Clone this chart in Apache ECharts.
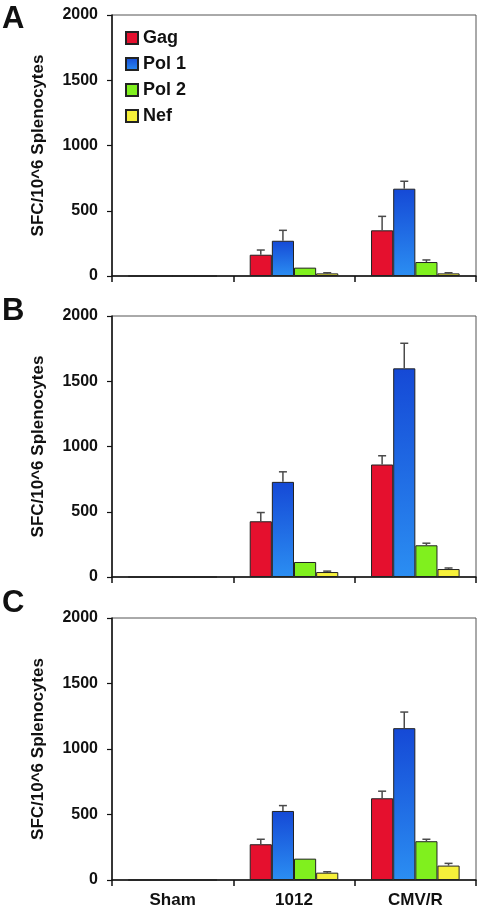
<!DOCTYPE html>
<html>
<head>
<meta charset="utf-8">
<script src="https://cdn.jsdelivr.net/npm/echarts@6/dist/echarts.min.js"></script>
<style>
html,body{margin:0;padding:0;background:#fff;}
#chart{width:480px;height:918px;}
</style>
</head>
<body>
<div id="chart"></div>
<script>
// ---- data ----
var categories = ['Sham', '1012', 'CMV/R'];
var seriesNames = ['Gag', 'Pol 1', 'Pol 2', 'Nef'];
var yTicks = [0, 500, 1000, 1500, 2000];
var panelLabels = ['A', 'B', 'C'];

// Panel A values (Sham, 1012, CMV/R)
var A_gag  = [0, 163, 350];
var A_pol1 = [0, 270, 669];
var A_pol2 = [0, 64, 107];
var A_nef  = [0, 20, 20];
var A_gag_err  = [0, 36, 107];
var A_pol1_err = [0, 80, 57];
var A_pol2_err = [0, 0, 16];
var A_nef_err  = [0, 5, 5];

// Panel B values
var B_gag  = [0, 427, 862];
var B_pol1 = [0, 729, 1599];
var B_pol2 = [0, 115, 243];
var B_nef  = [0, 38, 61];
var B_gag_err  = [0, 67, 67];
var B_pol1_err = [0, 77, 192];
var B_pol2_err = [0, 0, 16];
var B_nef_err  = [0, 7, 8];

// Panel C values
var C_gag  = [0, 273, 624];
var C_pol1 = [0, 527, 1159];
var C_pol2 = [0, 163, 296];
var C_nef  = [0, 56, 110];
var C_gag_err  = [0, 38, 54];
var C_pol1_err = [0, 41, 123];
var C_pol2_err = [0, 0, 15];
var C_nef_err  = [0, 7, 17];

var panels = [
  {vals: [A_gag, A_pol1, A_pol2, A_nef], errs: [A_gag_err, A_pol1_err, A_pol2_err, A_nef_err]},
  {vals: [B_gag, B_pol1, B_pol2, B_nef], errs: [B_gag_err, B_pol1_err, B_pol2_err, B_nef_err]},
  {vals: [C_gag, C_pol1, C_pol2, C_nef], errs: [C_gag_err, C_pol1_err, C_pol2_err, C_nef_err]}
];

// ---- styling ----
var FONT = 'Liberation Sans, Arial, sans-serif';
var colors = [
  '#e5102e',
  {type: 'linear', x: 0, y: 0, x2: 0, y2: 1, colorStops: [{offset: 0, color: '#1549d6'}, {offset: 1, color: '#2b8ef2'}]},
  '#80f01e',
  '#f6f03a'
];
var gridTops = [15, 316, 618];
var gridH = [261, 261, 262];
var catGapPct = 27;

var grids = [], xAxes = [], yAxes = [], series = [], graphics = [];
var letterY = [19.5, 311, 603];

panels.forEach(function (p, gi) {
  grids.push({left: 112, right: 4, top: gridTops[gi], height: gridH[gi], show: true, borderColor: '#555', borderWidth: 1, backgroundColor: 'transparent'});
  xAxes.push({
    type: 'category', gridIndex: gi, data: categories,
    axisLine: {lineStyle: {color: '#111', width: 1.5}},
    axisTick: {show: true, length: 6, lineStyle: {color: '#111', width: 1.5}},
    axisLabel: {show: gi === 2, color: '#111', fontFamily: FONT, fontWeight: 'bold', fontSize: 17, margin: 12},
    splitLine: {show: false}
  });
  yAxes.push({
    type: 'value', gridIndex: gi, min: yTicks[0], max: yTicks[yTicks.length - 1], interval: 500,
    name: 'SFC/10^6 Splenocytes', nameLocation: 'middle', nameGap: 65,
    nameTextStyle: {color: '#111', fontFamily: FONT, fontWeight: 'bold', fontSize: 17},
    axisLine: {show: true, lineStyle: {color: '#111', width: 1.5}},
    axisTick: {show: true, length: 5, lineStyle: {color: '#111', width: 1.2}},
    axisLabel: {color: '#111', fontFamily: FONT, fontWeight: 'bold', fontSize: 16, margin: 14,
      formatter: function (v) { return String(v); }},
    splitLine: {show: false}
  });
  p.vals.forEach(function (vals, si) {
    series.push({
      type: 'bar', name: seriesNames[si], xAxisIndex: gi, yAxisIndex: gi,
      data: vals, barGap: '0%', barCategoryGap: catGapPct + '%',
      itemStyle: {color: colors[si], borderColor: '#222', borderWidth: 1},
      emphasis: {disabled: true}
    });
  });
  p.vals.forEach(function (vals, si) {
    var errs = p.errs[si];
    var d = vals.map(function (v, ci) { return [ci, v, errs[ci]]; });
    series.push({
      type: 'custom', xAxisIndex: gi, yAxisIndex: gi, z: 5,
      encode: {x: 0, y: 1},
      data: d,
      renderItem: (function (sIdx) {
        return function (params, api) {
          var cat = api.value(0), v = api.value(1), e = api.value(2);
          if (!e) return null;
          var band = api.size([1, 0])[0];
          var barW = band * (1 - catGapPct / 100) / 4;
          var base = api.coord([cat, v]);
          var top = api.coord([cat, v + e]);
          var cx = base[0] + (sIdx - 1.5) * barW;
          var cap = 4;
          var st = {stroke: '#4a4a4a', lineWidth: 1.5};
          return {
            type: 'group',
            children: [
              {type: 'line', shape: {x1: cx, y1: base[1], x2: cx, y2: top[1]}, style: st},
              {type: 'line', shape: {x1: cx - cap, y1: top[1], x2: cx + cap, y2: top[1]}, style: st}
            ]
          };
        };
      })(si)
    });
  });
  graphics.push({
    type: 'text', x: 2, y: letterY[gi],
    style: {text: panelLabels[gi], font: 'bold 31px ' + FONT, fill: '#111', verticalAlign: 'middle'}
  });
});

var chart = echarts.init(document.getElementById('chart'), null, {renderer: 'canvas'});
chart.setOption({
  backgroundColor: '#fff',
  animation: false,
  grid: grids,
  xAxis: xAxes,
  yAxis: yAxes,
  legend: {
    data: seriesNames, orient: 'vertical', left: 125, top: 29, padding: 0,
    itemWidth: 12, itemHeight: 12, itemGap: 8, icon: 'rect',
    textStyle: {color: '#111', fontFamily: FONT, fontWeight: 'bold', fontSize: 18, lineHeight: 18, padding: [0, 0, 0, 0]},
    selectedMode: false
  },
  graphic: graphics,
  series: series
});
</script>
</body>
</html>
